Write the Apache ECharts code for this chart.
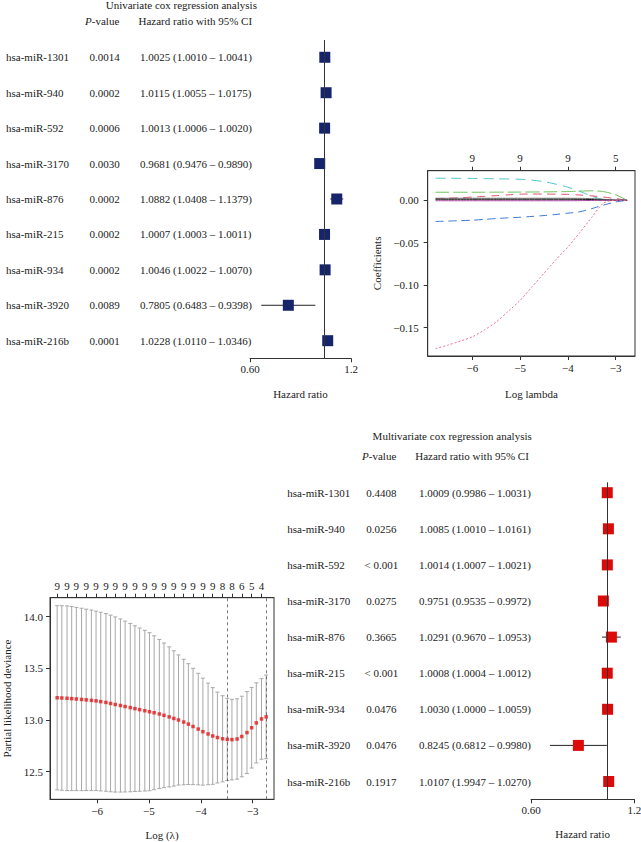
<!DOCTYPE html>
<html><head><meta charset="utf-8">
<script src="https://cdn.jsdelivr.net/npm/echarts@6/dist/echarts.min.js"></script>
<style>html,body{margin:0;padding:0;background:#fff}#c{width:641px;height:842px}</style>
</head><body><div id="c"></div>
<script>
// ---------- DATA ----------
const genes = ['hsa-miR-1301','hsa-miR-940','hsa-miR-592','hsa-miR-3170','hsa-miR-876','hsa-miR-215','hsa-miR-934','hsa-miR-3920','hsa-miR-216b'];
const rowIdx = [0,1,2,3,4,5,6,7,8];

const uniP  = ['0.0014','0.0002','0.0006','0.0030','0.0002','0.0002','0.0002','0.0089','0.0001'];
const uniHR = [1.0025,1.0115,1.0013,0.9681,1.0882,1.0007,1.0046,0.7805,1.0228];
const uniLo = [1.0010,1.0055,1.0006,0.9476,1.0408,1.0003,1.0022,0.6483,1.0110];
const uniHi = [1.0041,1.0175,1.0020,0.9890,1.1379,1.0011,1.0070,0.9398,1.0346];
const uniText = ['1.0025 (1.0010 – 1.0041)','1.0115 (1.0055 – 1.0175)','1.0013 (1.0006 – 1.0020)','0.9681 (0.9476 – 0.9890)','1.0882 (1.0408 – 1.1379)','1.0007 (1.0003 – 1.0011)','1.0046 (1.0022 – 1.0070)','0.7805 (0.6483 – 0.9398)','1.0228 (1.0110 – 1.0346)'];

const multiP  = ['0.4408','0.0256','< 0.001','0.0275','0.3665','< 0.001','0.0476','0.0476','0.1917'];
const multiHR = [1.0009,1.0085,1.0014,0.9751,1.0291,1.0008,1.0030,0.8245,1.0107];
const multiLo = [0.9986,1.0010,1.0007,0.9535,0.9670,1.0004,1.0000,0.6812,0.9947];
const multiHi = [1.0031,1.0161,1.0021,0.9972,1.0953,1.0012,1.0059,0.9980,1.0270];
const multiText = ['1.0009 (0.9986 – 1.0031)','1.0085 (1.0010 – 1.0161)','1.0014 (1.0007 – 1.0021)','0.9751 (0.9535 – 0.9972)','1.0291 (0.9670 – 1.0953)','1.0008 (1.0004 – 1.0012)','1.0030 (1.0000 – 1.0059)','0.8245 (0.6812 – 0.9980)','1.0107 (1.9947 – 1.0270)'];

const hrTicks = [0.60, 1.2];
const hrTickLabels = ['0.60', '1.2'];

// LASSO coefficient paths
const lassoLogLambda = [-6.77,-6.5,-6.25,-6.0,-5.75,-5.5,-5.25,-5.0,-4.75,-4.5,-4.25,-4.0,-3.75,-3.5,-3.25,-3.0,-2.76];
const coefCyan   = [0.026,0.026,0.0259,0.0258,0.0256,0.0253,0.0251,0.0248,0.0238,0.022,0.019,0.0155,0.0105,0.005,0.0005,0,0];
const coefGreen  = [0.0095,0.0095,0.0095,0.0095,0.0095,0.0096,0.0096,0.0097,0.0098,0.0099,0.0101,0.0103,0.0108,0.0112,0.0102,0.0065,0];
const coefRed    = [0.002,0.0025,0.003,0.0038,0.0046,0.0055,0.0064,0.0072,0.0074,0.0074,0.0072,0.007,0.0062,0.0052,0.0038,0.002,0];
const coefGray   = [0.0024,0.0024,0.0024,0.0024,0.0024,0.0024,0.0024,0.0024,0.0024,0.0024,0.0024,0.0024,0.0023,0.002,0.0012,0.0004,0];
const coefBlack  = [0.0012,0.0012,0.0012,0.0012,0.0012,0.0012,0.0012,0.0012,0.0012,0.0012,0.0012,0.0012,0.0011,0.0009,0.0004,0,0];
const coefPurple = [-0.0005,-0.0005,-0.0005,-0.0005,-0.0005,-0.0005,-0.0005,-0.0005,-0.0005,-0.0005,-0.0005,-0.0005,-0.0004,-0.0002,0,0,0];
const coefBlue   = [-0.025,-0.0245,-0.024,-0.0235,-0.0225,-0.0215,-0.0207,-0.020,-0.019,-0.018,-0.0167,-0.0152,-0.0135,-0.0098,-0.0055,-0.002,0];
const coefPink   = [-0.175,-0.1705,-0.166,-0.161,-0.153,-0.1435,-0.131,-0.118,-0.102,-0.086,-0.070,-0.055,-0.038,-0.020,-0.003,0,0];
const logLambdaTicks = [-6,-5,-4,-3];
const logLambdaLabels = ['−6','−5','−4','−3'];
const lassoDf = ['9','9','9','5'];
const lassoYTicks = [0,-0.05,-0.10,-0.15];
const lassoYLabels = ['0.00','−0.05','−0.10','−0.15'];

// Cross-validation curve
const cvLogLambda = [-6.77,-6.68,-6.58,-6.49,-6.40,-6.30,-6.21,-6.11,-6.02,-5.93,-5.83,-5.74,-5.65,-5.55,-5.46,-5.36,-5.27,-5.18,-5.08,-4.99,-4.90,-4.80,-4.71,-4.61,-4.52,-4.43,-4.33,-4.24,-4.15,-4.05,-3.96,-3.86,-3.77,-3.68,-3.58,-3.49,-3.40,-3.30,-3.21,-3.11,-3.02,-2.93,-2.83,-2.74];
const cvMean = [13.215,13.213,13.210,13.207,13.203,13.199,13.195,13.190,13.185,13.178,13.170,13.160,13.150,13.140,13.130,13.120,13.110,13.100,13.090,13.080,13.070,13.058,13.045,13.030,13.015,13.000,12.980,12.960,12.937,12.912,12.887,12.865,12.845,12.830,12.818,12.812,12.810,12.816,12.840,12.878,12.925,12.972,13.010,13.030];
const cvSD = [0.892,0.893,0.894,0.891,0.887,0.883,0.878,0.874,0.869,0.865,0.860,0.855,0.848,0.838,0.827,0.815,0.802,0.790,0.778,0.765,0.745,0.722,0.700,0.678,0.655,0.630,0.608,0.585,0.563,0.540,0.518,0.492,0.468,0.440,0.417,0.398,0.390,0.389,0.390,0.397,0.390,0.388,0.390,0.405];
const cvDfLabels = ['9','9','9','9','9','9','9','9','9','9','9','9','9','9','9','9','9','8','8','6','5','4'];
const lambdaMin = -3.49;
const lambda1se = -2.74;
const cvYTicks = [12.5,13.0,13.5,14.0];
const cvYLabels = ['12.5','13.0','13.5','14.0'];

// ---------- STYLE ----------
const F = '"Liberation Serif","DejaVu Serif",serif';
const TXT = '#222';
const AX = '#333';
const font = {fontFamily: F, fontSize: 11, color: TXT};
const lookup = (ticks, labels) => v => {
  const i = ticks.findIndex(t => Math.abs(t - v) < 1e-6);
  return i < 0 ? '' : labels[i];
};
const hrLn = hrTicks.map(t => Math.log(t));
const cvDfTicks = cvLogLambda.filter((_, i) => i % 2 === 0);

function rowAxis(grid, min, max, labels, align, margin) {
  return {type:'value', gridIndex:grid, inverse:true, min, max, position:'left',
    axisLine:{show:false, onZero:false}, axisTick:{show:false}, splitLine:{show:false},
    axisLabel:{customValues: rowIdx, formatter: v => labels[Math.round(v)], align, margin, ...font}};
}
function hrAxis(grid, gap) {
  return {type:'value', gridIndex:grid, min: Math.log(0.6), max: Math.log(1.2),
    axisLine:{show:true, onZero:false, lineStyle:{color:AX, width:1}},
    axisTick:{show:true, customValues: hrLn, length:4, lineStyle:{color:AX}},
    axisLabel:{customValues: hrLn, formatter: lookup(hrLn, hrTickLabels), margin:5, ...font},
    splitLine:{show:false},
    name:'Hazard ratio', nameLocation:'middle', nameGap: gap, nameTextStyle:{...font}};
}
function ciRender(params, api) {
  const a = api.coord([api.value(0), api.value(2)]);
  const b = api.coord([api.value(1), api.value(2)]);
  return {type:'line', shape:{x1:a[0], y1:a[1], x2:b[0], y2:b[1]}, style:{stroke:'#222', lineWidth:1}};
}
function ebRender(params, api) {
  const x = api.value(0);
  const p1 = api.coord([x, api.value(2)]), p2 = api.coord([x, api.value(1)]);
  const w = 2, st = {stroke:'#a8a8a8', lineWidth:1};
  return {type:'group', children:[
    {type:'line', shape:{x1:p1[0], y1:p1[1], x2:p2[0], y2:p2[1]}, style:st},
    {type:'line', shape:{x1:p1[0]-w, y1:p1[1], x2:p1[0]+w, y2:p1[1]}, style:st},
    {type:'line', shape:{x1:p2[0]-w, y1:p2[1], x2:p2[0]+w, y2:p2[1]}, style:st}
  ]};
}
function forestSeries(xi, yi, hr, lo, hi, color) {
  return [
    {type:'custom', xAxisIndex:xi, yAxisIndex:yi, z:2, renderItem: ciRender,
      encode:{x:[0,1], y:2},
      data: lo.map((l, i) => [Math.log(l), Math.log(hi[i]), rowIdx[i]]),
      markLine:{silent:true, symbol:'none', label:{show:false},
        lineStyle:{color:AX, type:'solid', width:1}, data:[{xAxis:0}]}},
    {type:'scatter', xAxisIndex:xi, yAxisIndex:yi, z:3, symbol:'rect', symbolSize:11,
      itemStyle:{color, opacity:1},
      data: hr.map((v, i) => [Math.log(v), rowIdx[i]])}
  ];
}
function lassoLine(vals, color, type) {
  return {type:'line', xAxisIndex:1, yAxisIndex:3, showSymbol:false, smooth:0.25,
    lineStyle:{color, width:1, type}, data: lassoLogLambda.map((x, i) => [x, vals[i]])};
}
function txt(x, y, text, rich) {
  const s = {text, fontFamily:F, fontSize:11, fill:TXT, textAlign:'center', textVerticalAlign:'middle'};
  if (rich) s.rich = {i:{fontStyle:'italic', fontFamily:F, fontSize:11, fill:TXT}};
  return {type:'text', x, y, style:s};
}

const option = {
  animation:false,
  backgroundColor:'#fff',
  grid:[
    {left:250, top:40, width:101, height:318.3, outerBoundsMode:'none'},
    {left:427.7, top:170.7, width:207.3, height:185.3, show:true, borderColor:AX, borderWidth:1, outerBoundsMode:'none'},
    {left:50, top:597.7, width:224, height:201.6, show:true, borderColor:AX, borderWidth:1, outerBoundsMode:'none'},
    {left:531, top:482.3, width:103.3, height:317, outerBoundsMode:'none'}
  ],
  xAxis:[
    hrAxis(0, 30),
    {type:'value', gridIndex:1, min:-6.933, max:-2.596, position:'bottom',
      axisLine:{onZero:false, lineStyle:{color:AX}}, splitLine:{show:false},
      axisTick:{customValues:logLambdaTicks, length:4, lineStyle:{color:AX}},
      axisLabel:{customValues:logLambdaTicks, formatter:lookup(logLambdaTicks, logLambdaLabels), margin:6, ...font},
      name:'Log lambda', nameLocation:'middle', nameGap:32, nameTextStyle:{...font}},
    {type:'value', gridIndex:1, min:-6.933, max:-2.596, position:'top',
      axisLine:{onZero:false, lineStyle:{color:AX}}, splitLine:{show:false},
      axisTick:{customValues:logLambdaTicks, length:4, lineStyle:{color:AX}},
      axisLabel:{customValues:logLambdaTicks, formatter:lookup(logLambdaTicks, lassoDf), margin:7, ...font}},
    {type:'value', gridIndex:2, min:-6.908, max:-2.589, position:'bottom',
      axisLine:{onZero:false, lineStyle:{color:AX}}, splitLine:{show:false},
      axisTick:{customValues:logLambdaTicks, length:4, lineStyle:{color:AX}},
      axisLabel:{customValues:logLambdaTicks, formatter:lookup(logLambdaTicks, logLambdaLabels), margin:6, ...font},
      name:'Log (λ)', nameLocation:'middle', nameGap:30, nameTextStyle:{...font}},
    {type:'value', gridIndex:2, min:-6.908, max:-2.589, position:'top',
      axisLine:{onZero:false, lineStyle:{color:AX}}, splitLine:{show:false},
      axisTick:{customValues:cvDfTicks, length:4, lineStyle:{color:AX}},
      axisLabel:{customValues:cvDfTicks, formatter:lookup(cvDfTicks, cvDfLabels), margin:6, ...font}},
    hrAxis(3, 29)
  ],
  yAxis:[
    rowAxis(0, -0.488, 8.497, genes, 'left', 244),
    rowAxis(0, -0.488, 8.497, uniP, 'center', 145.5),
    rowAxis(0, -0.488, 8.497, uniText, 'left', 110),
    {type:'value', gridIndex:1, min:-0.1836, max:0.0349,
      axisLine:{show:true, onZero:false, lineStyle:{color:AX}}, splitLine:{show:false},
      axisTick:{customValues:lassoYTicks, length:4, lineStyle:{color:AX}},
      axisLabel:{customValues:lassoYTicks, formatter:lookup(lassoYTicks, lassoYLabels), margin:9, ...font},
      name:'Coefficients', nameLocation:'middle', nameRotate:90, nameGap:45, nameTextStyle:{...font}},
    {type:'value', gridIndex:2, min:12.232, max:14.184,
      axisLine:{show:true, onZero:false, lineStyle:{color:AX}}, splitLine:{show:false},
      axisTick:{customValues:cvYTicks, length:4, lineStyle:{color:AX}},
      axisLabel:{customValues:cvYTicks, formatter:lookup(cvYTicks, cvYLabels), margin:7, ...font},
      name:'Partial likelihood deviance', nameLocation:'middle', nameRotate:90, nameGap:38, nameTextStyle:{...font}},
    rowAxis(3, -0.288, 8.493, genes, 'left', 243.7),
    rowAxis(3, -0.288, 8.493, multiP, 'center', 149.7),
    rowAxis(3, -0.288, 8.493, multiText, 'left', 112)
  ],
  graphic:[
    txt(181.3, 5, 'Univariate cox regression analysis'),
    txt(102.2, 21, '{i|P}-value', true),
    txt(195.3, 21, 'Hazard ratio with 95% CI'),
    txt(452.2, 435.7, 'Multivariate cox regression analysis'),
    txt(379.2, 455.7, '{i|P}-value', true),
    txt(472, 455.7, 'Hazard ratio with 95% CI')
  ],
  series:[
    ...forestSeries(0, 0, uniHR, uniLo, uniHi, '#16256b'),
    lassoLine(coefCyan, '#4fc3cc', [10,6]),
    lassoLine(coefGreen, '#6cc35a', [14,4]),
    lassoLine(coefRed, '#e0506a', [8,6]),
    lassoLine(coefGray, '#777777', 'solid'),
    lassoLine(coefBlack, '#111111', 'solid'),
    lassoLine(coefPurple, '#a0409a', 'solid'),
    lassoLine(coefBlue, '#3b78d0', [8,5]),
    lassoLine(coefPink, '#f07090', [2,2]),
    {type:'custom', xAxisIndex:3, yAxisIndex:4, z:2, renderItem: ebRender,
      encode:{x:0, y:[1,2]},
      data: cvLogLambda.map((x, i) => [x, cvMean[i] - cvSD[i], cvMean[i] + cvSD[i]]),
      markLine:{silent:true, symbol:'none', label:{show:false},
        lineStyle:{color:'#555', type:[3,3], width:0.8}, data:[{xAxis:lambdaMin},{xAxis:lambda1se}]}},
    {type:'scatter', xAxisIndex:3, yAxisIndex:4, z:3, symbol:'rect', symbolSize:3.5,
      itemStyle:{color:'#e31a1c'}, data: cvLogLambda.map((x, i) => [x, cvMean[i]])},
    ...forestSeries(5, 5, multiHR, multiLo, multiHi, '#dd0a0a')
  ]
};
const chart = echarts.init(document.getElementById('c'), null, {renderer:'svg', width:641, height:842});
chart.setOption(option);
</script>
</body></html>
